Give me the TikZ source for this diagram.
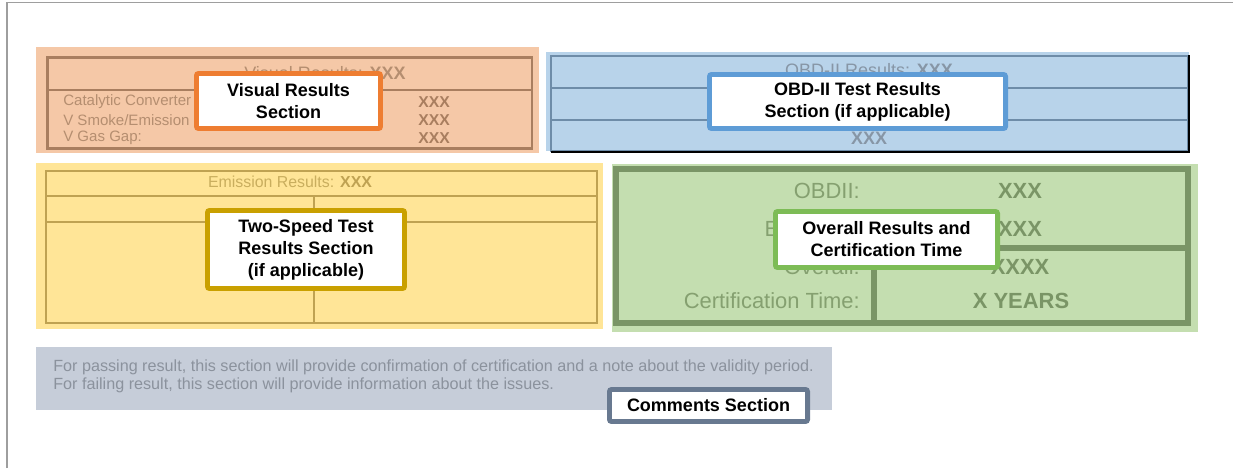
\documentclass[tikz,border=0pt]{standalone}
\usepackage{fontspec}
\setmainfont{Liberation Sans}
\usetikzlibrary{positioning}

\definecolor{peachBg}{HTML}{F5C8A7}
\definecolor{peachLine}{HTML}{A97E5F}
\definecolor{peachText}{HTML}{B58E70}
\definecolor{skyBg}{HTML}{B8D3EA}
\definecolor{skyLine}{HTML}{6E8CA8}
\definecolor{skyText}{HTML}{8796A6}
\definecolor{sandBg}{HTML}{FFE597}
\definecolor{sandLine}{HTML}{BFA252}
\definecolor{sandText}{HTML}{C9AE5E}
\definecolor{leafBg}{HTML}{C4DEB0}
\definecolor{leafLine}{HTML}{7A9566}
\definecolor{leafText}{HTML}{85A070}
\definecolor{slateBg}{HTML}{C6CDD9}
\definecolor{slateText}{HTML}{8B929D}
\definecolor{tagOrange}{HTML}{EE7D31}
\definecolor{tagBlue}{HTML}{5E9CD6}
\definecolor{tagGold}{HTML}{C9A000}
\definecolor{tagGreen}{HTML}{7DBC56}
\definecolor{tagSlate}{HTML}{687990}

\begin{document}
\begin{tikzpicture}
        [x=0.025cm, y=-0.025cm,
        tag/.style={draw, fill=white, line width=3.5pt, rounded corners=1.5pt,
            align=center, inner sep=0pt,
            font=\bfseries\fontsize{12.8}{15.6}\selectfont},
        txt/.style={inner sep=0pt},
        head/.style={txt, font=\fontsize{12.8}{15}\selectfont},
        small/.style={txt, font=\fontsize{10.7}{12.8}\selectfont},
        big/.style={txt, font=\fontsize{15.6}{18}\selectfont}
        ]
        \useasboundingbox (0,0) rectangle (1233,468);

        % page frame
        \draw[color=black!38, line width=1.1pt] (7,468) -- (7,2.5) -- (1233,2.5);

        % visual results
        \fill[peachBg] (36,47) rectangle (539,153);
        \draw[peachLine, line width=2pt] (47.5,57.5) rectangle (532,148.5);
        \draw[peachLine, line width=2pt] (47.5,90) -- (532,90);
        \node [head, text=peachText] (visHead) at (325,73)
            {Visual Results: \textbf{XXX}};
        \node [small, text=peachText, anchor=west] (visCat) at (63,102) {Catalytic Converter};
        \node [small, text=peachText, anchor=west] (visSmoke) at (63,120) {V Smoke/Emission};
        \node [small, text=peachText, anchor=west] (visGas) at (63,138) {V Gas Gap:};
        \node [small, text=peachLine, font=\bfseries\fontsize{11.2}{12.8}\selectfont] (visCatVal) at (434,102) {XXX};
        \node [small, text=peachLine, font=\bfseries\fontsize{11.2}{12.8}\selectfont] (visSmokeVal) at (434,120) {XXX};
        \node [small, text=peachLine, font=\bfseries\fontsize{11.2}{12.8}\selectfont] (visGasVal) at (434,138) {XXX};

        % obd-ii results
        \fill[skyBg] (546,52) rectangle (1189,151);
        \draw[skyLine, line width=1.5pt] (551,56) rectangle (1188,151);
        \draw[skyLine, line width=1.5pt] (551,88) -- (1188,88);
        \draw[skyLine, line width=1.5pt] (551,120) -- (1188,120);
        \draw[black, line width=1.5pt] (551,152) -- (1189,152) -- (1189,55);
        \node [head, text=skyText] (obdHead) at (869,70) {OBD-II Results: \textbf{XXX}};
        \node [head, text=skyText, font=\bfseries\fontsize{12.8}{15}\selectfont] (obdVal) at (869,138) {XXX};

        % two-speed results
        \fill[sandBg] (36,163) rectangle (603,329);
        \draw[sandLine, line width=1.8pt] (46,171) rectangle (597,323);
        \draw[sandLine, line width=1.8pt] (46,196) -- (597,196);
        \draw[sandLine, line width=1.8pt] (46,222) -- (597,222);
        \draw[sandLine, line width=1.8pt] (314,196) -- (314,323);
        \node [txt, text=sandText, font=\fontsize{11.3}{13}\selectfont] (emiHead) at (290,182)
            {Emission Results: \textcolor{sandLine}{\textbf{XXX}}};

        % overall results
        \fill[leafBg] (612,164) rectangle (1198,332);
        \draw[leafLine, line width=4pt] (616,169) rectangle (1188,323);
        \draw[leafLine, line width=4pt] (874,248) -- (1188,248);
        \draw[leafLine, line width=4pt] (874,248) -- (874,323);
        \node [big, text=leafText, anchor=east] (allObd) at (860,191) {OBDII:};
        \node [big, text=leafText, anchor=east] (allEmi) at (860,229) {Emission:};
        \node [big, text=leafText, anchor=east] (allAll) at (860,267) {Overall:};
        \node [big, text=leafText, anchor=east] (allCert) at (860,301) {Certification Time:};
        \node [big, text=leafLine, font=\bfseries\fontsize{15.6}{18}\selectfont] (allObdVal) at (1020,191) {XXX};
        \node [big, text=leafLine, font=\bfseries\fontsize{15.6}{18}\selectfont] (allEmiVal) at (1020,229) {XXX};
        \node [big, text=leafLine, font=\bfseries\fontsize{15.6}{18}\selectfont] (allAllVal) at (1020,267) {XXXX};
        \node [big, text=leafLine, font=\bfseries\fontsize{15.6}{18}\selectfont] (allCertVal) at (1021,301) {X YEARS};

        % comments
        \fill[slateBg] (36,347) rectangle (832,410);
        \node [txt, text=slateText, anchor=west, align=left, font=\fontsize{11.5}{12.8}\selectfont] (note) at (53,376)
            {For passing result, this section will provide confirmation of certification and a note about the validity period.\\
            For failing result, this section will provide information about the issues.};

        % section tags
        \node [tag, draw=tagOrange, minimum width=4.6cm, minimum height=1.375cm] (visTag) at (288.5,101)
            {Visual Results\\Section};
        \node [tag, draw=tagBlue, minimum width=7.4cm, minimum height=1.35cm] (obdTag) at (857.5,101.5)
            {OBD-II Test Results\\Section (if applicable)};
        \node [tag, draw=tagGold, minimum width=4.925cm, minimum height=1.95cm] (emiTag) at (306,249.5)
            {Two-Speed Test\\Results Section\\(if applicable)};
        \node [tag, draw=tagGreen, minimum width=5.55cm, minimum height=1.4cm] (allTag) at (886.5,239.5)
            {Overall Results and\\Certification Time};
        \node [tag, draw=tagSlate, minimum width=4.95cm, minimum height=0.8cm] (noteTag) at (708.5,405.5)
            {Comments Section};
    \end{tikzpicture}
\end{document}
